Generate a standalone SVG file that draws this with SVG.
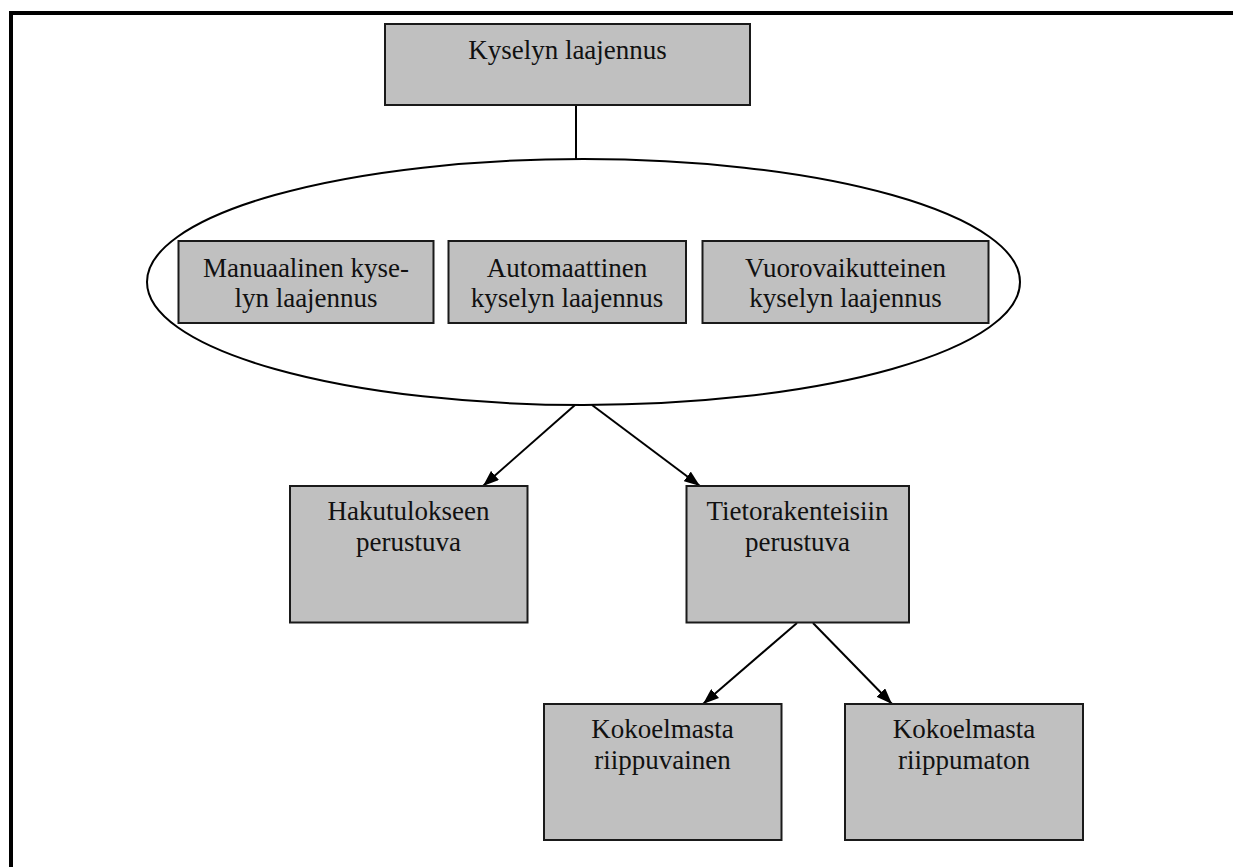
<svg xmlns="http://www.w3.org/2000/svg" width="1233" height="867" viewBox="0 0 1233 867">
<style>
.box{fill:#c0c0c0;stroke:#1a1a1a;stroke-width:2}
.lbl{font-family:"Liberation Serif","Times New Roman",serif;font-size:27px;fill:#111;text-anchor:middle}
.conn{stroke:#000;stroke-width:2;fill:none}
</style>
<defs>
<marker id="arr" viewBox="0 0 16 12" refX="16" refY="6" markerWidth="16" markerHeight="12" markerUnits="userSpaceOnUse" orient="auto">
<path d="M0,0 L16,6 L0,12 z" fill="#000"/>
</marker>
</defs>
<rect width="1233" height="867" fill="#fff"/>
<polyline points="11,867 11,13 1233,13" fill="none" stroke="#000" stroke-width="4"/>
<g id="connectors">
<line class="conn" x1="576" y1="105" x2="576" y2="159"/>
<line class="conn" x1="575" y1="405" x2="483" y2="486" marker-end="url(#arr)"/>
<line class="conn" x1="592" y1="405" x2="700" y2="486" marker-end="url(#arr)"/>
<line class="conn" x1="797" y1="623" x2="703" y2="704" marker-end="url(#arr)"/>
<line class="conn" x1="813" y1="623" x2="892" y2="704" marker-end="url(#arr)"/>
</g>
<g id="group-ellipse">
<ellipse cx="583.5" cy="282" rx="436.5" ry="123" fill="#fff" stroke="#000" stroke-width="2"/>
</g>
<g id="kyselyn-laajennus">
<rect class="box" x="385" y="24" width="365" height="81"/>
<text class="lbl" x="567.5" y="59">Kyselyn laajennus</text>
</g>
<g id="manuaalinen">
<rect class="box" x="178.5" y="241" width="255" height="82"/>
<text class="lbl" x="306" y="277">Manuaalinen kyse-</text>
<text class="lbl" x="306" y="307">lyn laajennus</text>
</g>
<g id="automaattinen">
<rect class="box" x="448.5" y="241" width="237.5" height="82"/>
<text class="lbl" x="567" y="277">Automaattinen</text>
<text class="lbl" x="567" y="307">kyselyn laajennus</text>
</g>
<g id="vuorovaikutteinen">
<rect class="box" x="702.5" y="241" width="286" height="82"/>
<text class="lbl" x="845.5" y="277">Vuorovaikutteinen</text>
<text class="lbl" x="845.5" y="307">kyselyn laajennus</text>
</g>
<g id="hakutulokseen">
<rect class="box" x="290" y="486" width="237.5" height="136.5"/>
<text class="lbl" x="408.5" y="520">Hakutulokseen</text>
<text class="lbl" x="408.5" y="551">perustuva</text>
</g>
<g id="tietorakenteisiin">
<rect class="box" x="686.5" y="486" width="222.5" height="136.5"/>
<text class="lbl" x="797.5" y="520">Tietorakenteisiin</text>
<text class="lbl" x="797.5" y="551">perustuva</text>
</g>
<g id="riippuvainen">
<rect class="box" x="544" y="704" width="237.5" height="136"/>
<text class="lbl" x="662.5" y="738">Kokoelmasta</text>
<text class="lbl" x="662.5" y="769">riippuvainen</text>
</g>
<g id="riippumaton">
<rect class="box" x="845" y="704" width="238" height="136"/>
<text class="lbl" x="964" y="738">Kokoelmasta</text>
<text class="lbl" x="964" y="769">riippumaton</text>
</g>
</svg>
